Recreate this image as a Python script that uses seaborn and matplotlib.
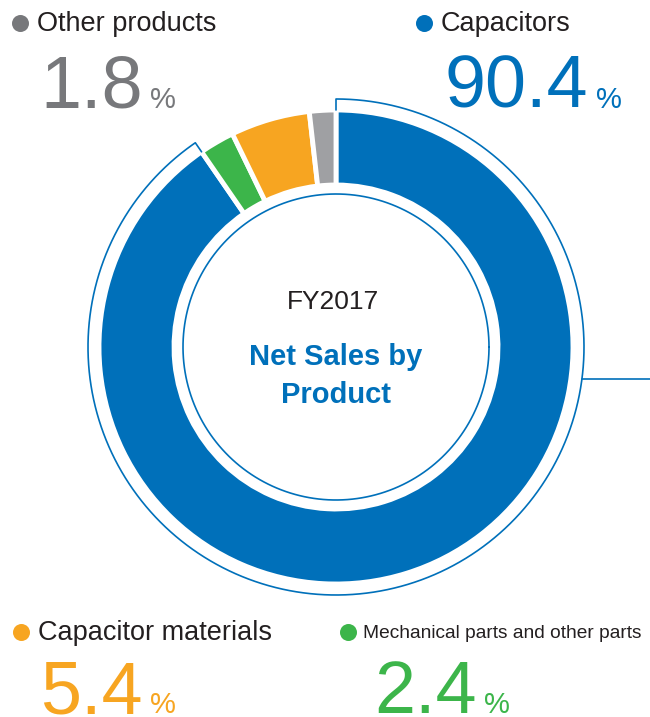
import numpy as np
import seaborn as sns
import matplotlib.pyplot as plt

# data
categories = ["Capacitors", "Mechanical parts and other parts", "Capacitor materials", "Other products"]
shares = [90.4, 2.4, 5.4, 1.8]
colors = ["#0070BA", "#3CB54A", "#F7A521", "#9FA0A3"]
value_colors = ["#0070BA", "#3CB54A", "#F7A521", "#77787B"]
center_year = "FY2017"
center_title = "Net Sales by\nProduct"

sns.set_theme(style="white")
plt.rcParams["font.family"] = ["Liberation Sans", "DejaVu Sans"]
pal = sns.color_palette(colors)

fig = plt.figure(figsize=(6.5, 7.17), dpi=100)
ax = fig.add_axes([0, 0, 1, 1])
H = 717
cx, cy = 336, H - 347
R, W = 237, 75

ax.pie(shares, colors=pal, startangle=90, counterclock=False, radius=R,
       center=(cx, cy), wedgeprops=dict(width=W, edgecolor="white", linewidth=3.5))

blue = colors[0]
# inner thin circle
t = np.linspace(0, 2 * np.pi, 400)
ax.plot(cx + 153 * np.cos(t), cy + 153 * np.sin(t), color=blue, lw=1.2)

# outline around the capacitors slice
r2 = 248
a0 = np.deg2rad(90)
a1 = np.deg2rad(90 - shares[0] / 100 * 360)
arc = np.linspace(a0, a1, 400)
xs = np.concatenate([[cx + R * np.cos(a0)], cx + r2 * np.cos(arc), [cx + R * np.cos(a1)]])
ys = np.concatenate([[cy + R * np.sin(a0)], cy + r2 * np.sin(arc), [cy + R * np.sin(a1)]])
ax.plot(xs, ys, color=blue, lw=1.2)
ly = H - 379
lx = cx + np.sqrt(r2 ** 2 - (cy - ly) ** 2)
ax.plot([lx, 650], [ly, ly], color=blue, lw=1.2)

# center text
ax.text(cx - 3, H - 302, center_year, ha="center", va="center", fontsize=19, color="#231F20")
ax.text(cx, H - 376, center_title, ha="center", va="center", fontsize=21,
        fontweight="bold", color=blue, linespacing=1.45)

# labels: (dot x, label y, value x, value baseline, pct x)
spots = {
    "Capacitors": (424, 23, 444, 108, 596),
    "Other products": (20, 23, 40, 108, 150),
    "Capacitor materials": (21, 632, 40, 713, 150),
    "Mechanical parts and other parts": (348, 632, 374, 713, 484),
}
for cat, val, vcol in zip(categories, shares, value_colors):
    dx, dy, vx, vy, px = spots[cat]
    mech = cat.startswith("Mech")
    ax.scatter([dx], [H - dy], s=150, color=vcol if cat == "Other products" else pal[categories.index(cat)],
               zorder=5, linewidths=0)
    ax.text(dx + (15 if mech else 17), H - dy - 1, cat, ha="left", va="center",
            fontsize=13.8 if mech else 19.5, color="#231F20")
    ax.text(vx, H - vy, f"{val:.1f}", ha="left", va="baseline", fontsize=53, color=vcol)
    ax.text(px, H - vy, "%", ha="left", va="baseline", fontsize=21, color=vcol)

ax.set_xlim(0, 650)
ax.set_ylim(0, H)
ax.set_aspect("equal")
ax.axis("off")
fig.savefig("out.png", dpi=100)
